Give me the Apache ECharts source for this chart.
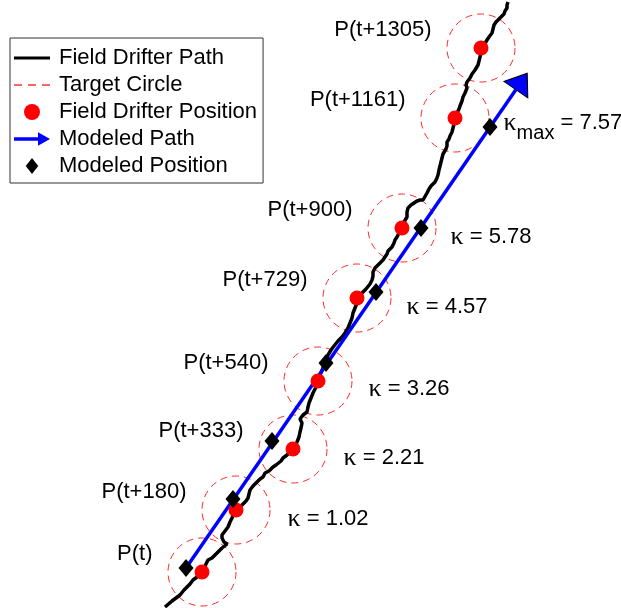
<!DOCTYPE html>
<html><head><meta charset="utf-8">
<script src="https://cdn.jsdelivr.net/npm/echarts@6/dist/echarts.min.js"></script>
<style>html,body{margin:0;padding:0;background:#fff}#c{width:621px;height:608px}</style>
</head><body><div id="c"></div>
<script>
// Field drifter track (plot units, y grows downward)
const drifterPath = [
[165,607],[172,601],[180,595],[184,590],[187,587],[190,584],[193,580],[197,577],[202,571],[205,566],[208,560],[212,558],[215,555],[219,551],[222,548],[227,544],[224,542],[222,538],[222,535],[225,531],[228,527],[230,522],[232,518],[235,511],[239,507],[242,505],[246,501],[248,498],[249,494],[250,490],[253,486],[257,482],[260,479],[263,477],[265,473],[269,471],[273,467],[276,465],[278,463],[281,461],[283,458],[287,455],[290,452],[293,449],[295,446],[297,442],[299,437],[300,432],[301,428],[302,423],[300,419],[303,415],[307,412],[308,407],[309,403],[311,398],[313,393],[315,389],[317,385],[318,381],
[320,375],[323,368],[325,362],[328,355],[331,350],[334,346],[338,341],[342,337],[345,333],[348,328],[350,323],[352,318],[353,313],[355,308],[357,303],[357,299],
[360,295],[363,292],[366,289],[368,287],[370,284],[372,280],[373,276],[373,272],[375,268],[378,265],[380,263],[383,260],[385,257],[387,254],[388,251],[390,249],[392,247],[394,243],[395,240],[397,237],[399,233],[402,228],
[404,222],[407,217],[407,212],[408,208],[411,205],[413,203],[417,201],[420,200],[423,200],[424,198],[427,193],[429,189],[431,186],[435,182],[437,178],[438,175],[439,170],[440,166],[441,162],[442,158],[443,154],[446,149],[447,146],[447,142],[449,139],[450,136],[452,132],[453,128],[454,124],[455,118],
[457,113],[459,109],[460,106],[462,101],[463,97],[465,93],[467,88],[466,85],[467,82],[470,78],[472,74],[475,70],[478,65],[479,61],[480,57],[481,53],[481,49],
[484,45],[487,40],[489,37],[492,33],[493,29],[494,25],[496,22],[497,20],[500,18],[502,17],[504,14],[505,11],[507,8],[507,5],[508,2]
];
const drifterPositions = [[202,572],[236,510],[293,449],[318,381],[357,298],[402,228],[455,118],[481,48]];
const positionLabels = ['P(t)','P(t+180)','P(t+333)','P(t+540)','P(t+729)','P(t+900)','P(t+1161)','P(t+1305)'];
const modeledPositions = [[186,568],[233,499],[272,441],[326,363],[376,292],[421,228],[490,127]];
const kappaValues = [null,1.02,2.21,3.26,4.57,5.78,7.57];
const modeledPathStart = [186,568];
const modeledPathEnd = [521.5,81.5];
const legendNames = ['Field Drifter Path','Target Circle','Field Drifter Position','Modeled Path','Modeled Position'];

// layout (label offsets relative to the modeled-position markers)
const kappaLabelOffsets = [[0,0],[47,20],[64,17],[35,26],[23,15],[22,9],[6,-4]];

const chart = echarts.init(document.getElementById('c'));
const dx = modeledPathEnd[0]-modeledPathStart[0];
const dy = modeledPathEnd[1]-modeledPathStart[1];
const arrowRot = -Math.atan2(dx, -dy)*180/Math.PI;

const kappaData = modeledPositions.map((p,i)=>{
  const v = kappaValues[i];
  const isMax = i === kappaValues.length-1;
  return {
    value: p,
    label: {
      show: v !== null,
      offset: kappaLabelOffsets[i],
      formatter: v === null ? '' : (isMax ? '{k|κ}{s|max}{t| = '+v.toFixed(2)+'}' : '{k|κ}{t| = '+v.toFixed(2)+'}')
    }
  };
});

const sans = 'Liberation Sans, Arial, sans-serif';
chart.setOption({
  animation:false,
  backgroundColor:'#fff',
  grid:{left:0,right:0,top:0,bottom:0},
  xAxis:{type:'value',min:0,max:621,show:false},
  yAxis:{type:'value',min:0,max:608,inverse:true,show:false},
  legend:{
    orient:'vertical',left:10,top:38,padding:[9,6,6,4],itemGap:5,itemWidth:36,itemHeight:16,
    borderColor:'#333',borderWidth:1,selectedMode:false,
    textStyle:{fontFamily:sans,fontSize:22,color:'#000',lineHeight:22,padding:[0,0,0,4]},
    data:[
      {name:legendNames[0],icon:'path://M0,0h36v3h-36z',itemStyle:{color:'#000',borderWidth:0}},
      {name:legendNames[1],icon:'path://M0,0h8v1.4h-8z M14,0h8v1.4h-8z M28,0h8v1.4h-8z',itemStyle:{color:'#ff3030',borderWidth:0}},
      {name:legendNames[2],icon:'circle'},
      {name:legendNames[3],icon:'path://M0,5h26v3.5h-26z M24,0L36,6.75L24,13.5z',itemStyle:{color:'#0000ff',borderWidth:0}},
      {name:legendNames[4],icon:'path://M7,0L14,9L7,18L0,9z'}
    ]
  },
  series:[
    {name:legendNames[1],type:'scatter',silent:true,z:1,data:drifterPositions,symbol:'circle',symbolSize:68,
     itemStyle:{color:'rgba(0,0,0,0)',borderColor:'#ff2a2a',borderWidth:1,borderType:[7,5],opacity:1}},
    {name:legendNames[0],type:'line',silent:true,z:2,data:drifterPath,showSymbol:false,symbol:'none',
     color:'#000',lineStyle:{color:'#000',width:3.5}},
    {name:legendNames[3],type:'line',silent:true,z:3,data:[modeledPathStart,modeledPathEnd],showSymbol:false,symbol:'none',
     color:'#0000ff',lineStyle:{color:'#0000ff',width:3.5}},
    {name:'arrowHead',type:'scatter',silent:true,z:6,data:[modeledPathEnd],symbol:'triangle',symbolSize:[29,20],symbolRotate:arrowRot,
     itemStyle:{color:'#0000ff',borderColor:'#000',borderWidth:1,opacity:1}},
    {name:legendNames[2],type:'scatter',silent:true,z:4,data:drifterPositions.map((p,i)=>({value:p,name:positionLabels[i]})),
     symbol:'circle',symbolSize:15,itemStyle:{color:'#ff0000',opacity:1},
     label:{show:true,position:'left',distance:42,offset:[0,-18],formatter:p=>p.name,fontFamily:sans,fontSize:22,color:'#000'}},
    {name:legendNames[4],type:'scatter',silent:true,z:5,data:kappaData,symbol:'diamond',symbolSize:[15,18],
     itemStyle:{color:'#000',opacity:1},
     label:{position:'right',distance:0,color:'#000',
       rich:{
         k:{fontFamily:'Liberation Serif, Times New Roman, serif',fontSize:26,color:'#000'},
         t:{fontFamily:sans,fontSize:22,color:'#000'},
         s:{fontFamily:sans,fontSize:20,color:'#000',padding:[20,0,0,0]}
       }}}
  ]
});
</script></body></html>
